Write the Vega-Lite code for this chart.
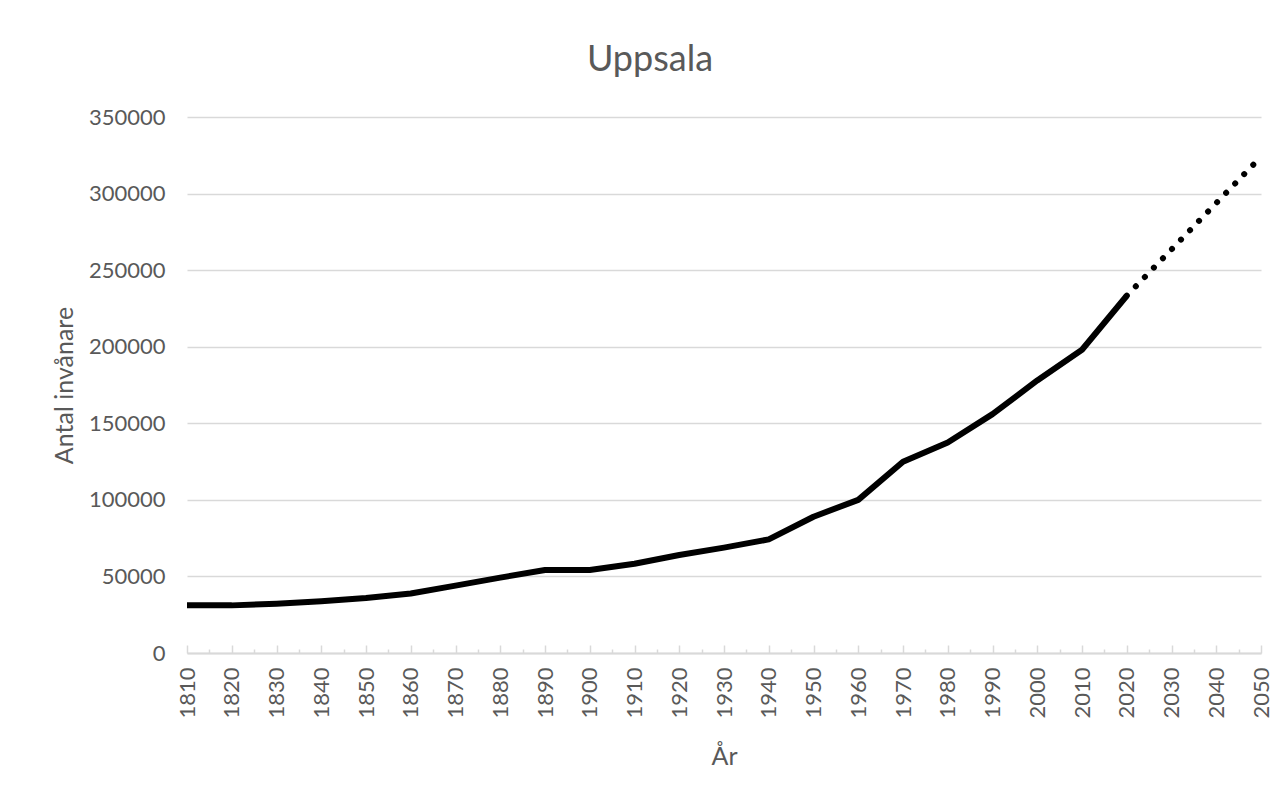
{
  "$schema": "https://vega.github.io/schema/vega-lite/v6.json",
  "autosize": {"type": "none"},
  "width": 1074,
  "height": 536,
  "padding": {"left": 187, "top": 117, "right": 21, "bottom": 138},
  "background": "white",
  "title": {
    "text": "Uppsala",
    "font": "Lato",
    "fontSize": 36,
    "fontWeight": "normal",
    "color": "#595959",
    "anchor": "middle",
    "dx": -74,
    "dy": 6,
    "baseline": "alphabetic",
    "offset": 5
  },
  "config": {
    "view": {"stroke": null},
    "axis": {
      "labelFont": "Lato",
      "titleFont": "Lato",
      "labelFontSize": 22,
      "titleFontSize": 25,
      "labelColor": "#595959",
      "titleColor": "#595959",
      "titleFontWeight": "normal",
      "gridColor": "#d9d9d9",
      "gridWidth": 1.5,
      "domainColor": "#d9d9d9",
      "domainWidth": 2,
      "tickColor": "#d9d9d9",
      "tickWidth": 1.5
    }
  },
  "data": {
    "values": [
      {"year": 1810, "invanare": 31100},
      {"year": 1820, "invanare": 31100},
      {"year": 1830, "invanare": 32200},
      {"year": 1840, "invanare": 33800},
      {"year": 1850, "invanare": 35900},
      {"year": 1860, "invanare": 38900},
      {"year": 1870, "invanare": 44000},
      {"year": 1880, "invanare": 49200},
      {"year": 1890, "invanare": 54200},
      {"year": 1900, "invanare": 54200},
      {"year": 1910, "invanare": 58300},
      {"year": 1920, "invanare": 64000},
      {"year": 1930, "invanare": 68800},
      {"year": 1940, "invanare": 74200},
      {"year": 1950, "invanare": 89000},
      {"year": 1960, "invanare": 100000},
      {"year": 1970, "invanare": 124900},
      {"year": 1980, "invanare": 137500},
      {"year": 1990, "invanare": 156000},
      {"year": 2000, "invanare": 178000},
      {"year": 2010, "invanare": 198000},
      {"year": 2020, "invanare": 233300},
      {"year": 2030, "invanare": 263500},
      {"year": 2040, "invanare": 293800},
      {"year": 2050, "invanare": 324000}
    ]
  },
  "encoding": {
    "x": {
      "field": "year",
      "type": "quantitative",
      "title": "År",
      "scale": {"domain": [1810, 2050], "nice": false, "zero": false},
      "axis": {
        "values": [1810, 1815, 1820, 1825, 1830, 1835, 1840, 1845, 1850, 1855, 1860, 1865, 1870, 1875, 1880, 1885, 1890, 1895, 1900, 1905, 1910, 1915, 1920, 1925, 1930, 1935, 1940, 1945, 1950, 1955, 1960, 1965, 1970, 1975, 1980, 1985, 1990, 1995, 2000, 2005, 2010, 2015, 2020, 2025, 2030, 2035, 2040, 2045, 2050],
        "labelExpr": "datum.value % 10 == 0 ? format(datum.value, 'd') : ''",
        "labelOverlap": false,
        "labelAngle": -90,
        "labelFlush": false,
        "grid": false,
        "tickSize": {"condition": {"test": "datum.value % 10 == 0", "value": -8}, "value": -4},
        "labelPadding": 22,
        "titlePadding": 26
      }
    },
    "y": {
      "field": "invanare",
      "type": "quantitative",
      "title": "Antal invånare",
      "scale": {"domain": [0, 350000], "nice": false},
      "axis": {
        "values": [0, 50000, 100000, 150000, 200000, 250000, 300000, 350000],
        "format": "d",
        "domain": false,
        "ticks": false,
        "labelPadding": 22,
        "titlePadding": 11
      }
    }
  },
  "layer": [
    {
      "transform": [{"filter": "datum.year <= 2020"}],
      "mark": {"type": "line", "color": "black", "strokeWidth": 6, "strokeJoin": "round"}
    },
    {
      "transform": [{"filter": "datum.year >= 2020"}],
      "mark": {"type": "line", "color": "black", "strokeWidth": 6, "strokeCap": "round", "strokeDash": [0.1, 12.9]}
    }
  ]
}
